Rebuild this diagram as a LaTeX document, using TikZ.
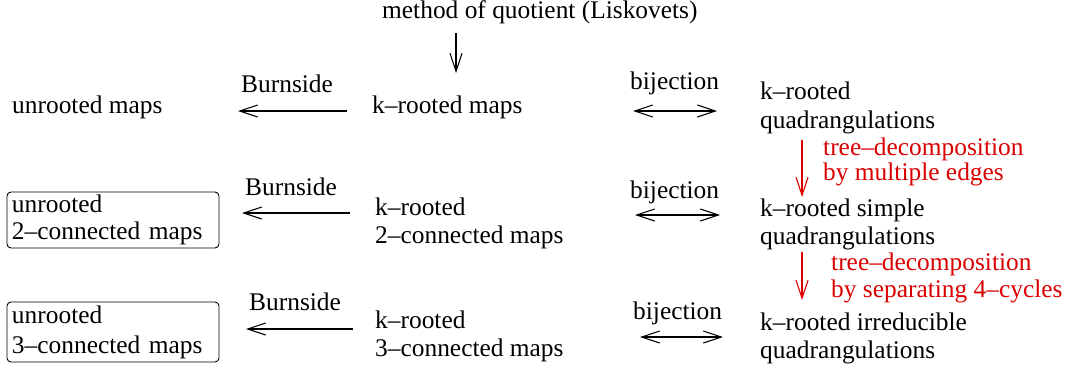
\documentclass[tikz,border=0pt]{standalone}
\usepackage{fontspec}
\setmainfont{Liberation Serif}
\usetikzlibrary{arrows.meta}
\definecolor{figred}{RGB}{218,0,0}
\tikzset{
	txt/.style={inner sep=0pt, anchor=base west, align=left, font=\fontsize{25.4}{28}\selectfont},
	redtxt/.style={txt, text=figred},
	boxed/.style={txt, draw, rounded corners=4pt, anchor=center, text width=202pt, inner xsep=5pt, line width=0.9pt},
	arr/.style={-{Straight Barb[length=18pt,width=12pt]}, line width=1.1pt},
	biarr/.style={{Straight Barb[length=18pt,width=12pt]}-{Straight Barb[length=18pt,width=12pt]}, line width=1.1pt},
	redarr/.style={arr, draw=figred}
}
\begin{document}
\begin{tikzpicture}[x=1pt,y=-1pt]
	\useasboundingbox (0,0) rectangle (1074,372);

	\node[txt] (quot) at (382,18) {method of quotient (Liskovets)};
	\coordinate (qs) at (456,33);
	\coordinate (qe) at (456,73);
	\draw[arr] (qs) -- (qe);

	% first row
	\node[txt] (umaps) at (12,113) {unrooted maps};
	\node[txt] (bur1) at (241,92) {Burnside};
	\node[txt] (kmaps) at (372,113) {k--rooted maps};
	\node[txt] (bij1) at (630,89) {bijection};
	\node[txt] (kquad) at (760,128) {k--rooted\\[1pt]quadrangulations};
	\coordinate (b1r) at (347,111);
	\coordinate (b1l) at (238,111);
	\draw[arr] (b1r) -- (b1l);
	\coordinate (j1l) at (633,111);
	\coordinate (j1r) at (717,111);
	\draw[biarr] (j1l) -- (j1r);

	\node[redtxt] (dec1) at (823,180) {tree--decomposition\\[-3pt]by multiple edges};
	\coordinate (d1s) at (802,140);
	\coordinate (d1e) at (802,197);
	\draw[redarr] (d1s) -- (d1e);

	% second row
	\node[boxed, minimum height=56pt] (u2c) at (113,220) {unrooted\\[-1pt]2--connected maps};
	\node[txt] (bur2) at (245,195) {Burnside};
	\node[txt] (k2c) at (375,243) {k--rooted\\2--connected maps};
	\node[txt] (bij2) at (630,198) {bijection};
	\node[txt] (ksimp) at (760,244) {k--rooted simple\\quadrangulations};
	\coordinate (b2r) at (350,213);
	\coordinate (b2l) at (242,213);
	\draw[arr] (b2r) -- (b2l);
	\coordinate (j2l) at (635,215);
	\coordinate (j2r) at (720,215);
	\draw[biarr] (j2l) -- (j2r);

	\node[redtxt] (dec2) at (831,297) {tree--decomposition\\[-1pt]by separating 4--cycles};
	\coordinate (d2s) at (802,252);
	\coordinate (d2e) at (802,300);
	\draw[redarr] (d2s) -- (d2e);

	% third row
	\node[boxed, minimum height=60pt] (u3c) at (113,332) {unrooted\\[2pt]3--connected maps};
	\node[txt] (bur3) at (249,310) {Burnside};
	\node[txt] (k3c) at (375,356) {k--rooted\\3--connected maps};
	\node[txt] (bij3) at (633,319) {bijection};
	\node[txt] (kirr) at (760,358) {k--rooted irreducible\\quadrangulations};
	\coordinate (b3r) at (353,329);
	\coordinate (b3l) at (246,329);
	\draw[arr] (b3r) -- (b3l);
	\coordinate (j3l) at (640,337);
	\coordinate (j3r) at (723,337);
	\draw[biarr] (j3l) -- (j3r);
\end{tikzpicture}
\end{document}
